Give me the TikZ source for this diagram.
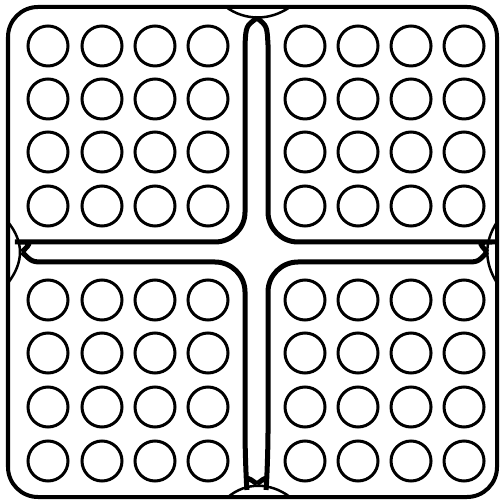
\documentclass[tikz,border=0pt]{standalone}
\usepackage{tikz}

\begin{document}
\begin{tikzpicture}[xscale=0.01,yscale=-0.01,
    frame/.style={line width=0.4mm,rounded corners=3mm},
    wall/.style={line width=0.5mm},
    lens/.style={line width=0.25mm},
    hole/.style={line width=0.3mm}]
      \useasboundingbox (0,0) rectangle (502,503);
      %\draw (0,0) grid[step=50] (500,500);
      \draw [frame] (8,7) rectangle (497,497);
      % lenses at the middle of the edges
      \draw [lens] (226,7) .. controls (245,21) and (270,21) .. (290,7);
      \draw [lens] (228,497) .. controls (246,482) and (270,482) .. (290,497);
      \draw [lens] (8,222) .. controls (24,242) and (24,262) .. (8,283);
      \draw [lens] (497,222) .. controls (484,242) and (484,262) .. (497,283);
      % the four plates
      \draw [wall] (257,18) .. controls (246,26) .. (245,45) [rounded corners=3mm] -- (245,242) -- (45,242) [sharp corners] .. controls (32,242) .. (22,252);
      \draw [wall] (257,18) .. controls (267,26) .. (268,45) [rounded corners=3mm] -- (268,242) -- (465,242) [sharp corners] .. controls (478,242) .. (487,252);
      \draw [wall] (22,252) .. controls (32,262) .. (45,262) [rounded corners=3mm] -- (245,262) -- (245,460) [sharp corners] .. controls (246,476) .. (257,484);
      \draw [wall] (487,252) .. controls (478,262) .. (465,262) [rounded corners=3mm] -- (268,262) -- (268,460) [sharp corners] .. controls (267,476) .. (257,484);
      % holes
      \foreach \x in {48,102,155,208,305,358,411,464}
        \foreach \y in {46,99,152,206,300,353,407,461}
          \draw [hole] (\x,\y) circle (20);
    \end{tikzpicture}
\end{document}
